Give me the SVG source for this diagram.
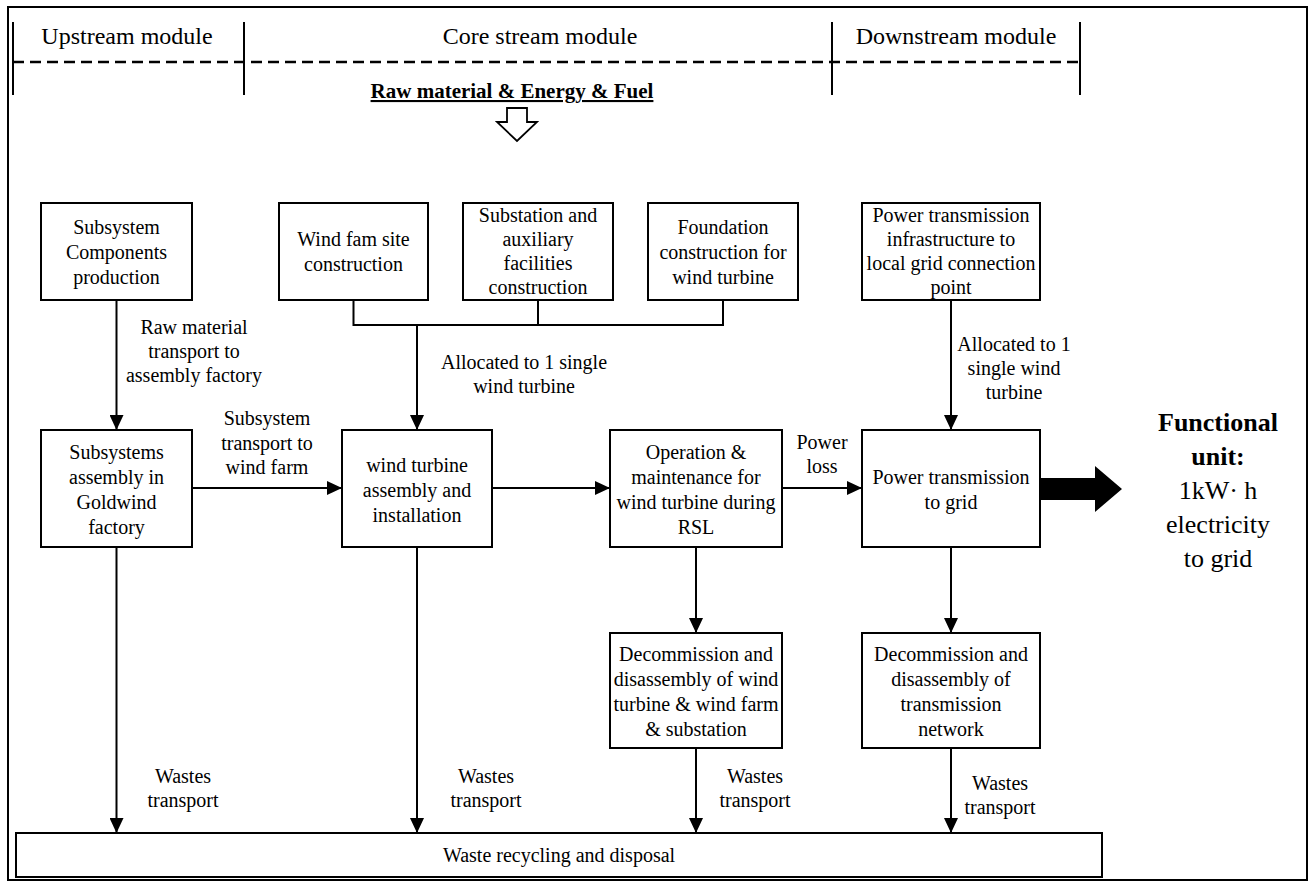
<svg xmlns="http://www.w3.org/2000/svg" width="1310" height="884" viewBox="0 0 1310 884">
<style>
text{font-family:"Liberation Serif","Times New Roman",serif;fill:#000}
.t{font-size:20px;text-anchor:middle}
.h{font-size:24px;text-anchor:middle}
.box{fill:#fff;stroke:#000;stroke-width:2}
.ln{fill:none;stroke:#000;stroke-width:2}
.ar{fill:none;stroke:#000;stroke-width:2;marker-end:url(#ah)}
.fu{font-size:26px;text-anchor:middle}
</style>
<defs>
<marker id="ah" markerUnits="userSpaceOnUse" markerWidth="15" markerHeight="14" refX="15" refY="7" orient="auto">
<path d="M0,0 L15,7 L0,14 z" fill="#000"/>
</marker>
</defs>
<rect width="1310" height="884" fill="#fff"/>
<rect x="8" y="7" width="1299" height="873" fill="none" stroke="#000" stroke-width="2"/>

<g id="header">
<line x1="13" y1="62" x2="1080" y2="62" stroke="#000" stroke-width="2.5" stroke-dasharray="11 6"/>
<line x1="13" y1="22" x2="13" y2="95" class="ln"/>
<line x1="244" y1="22" x2="244" y2="95" class="ln"/>
<line x1="832" y1="22" x2="832" y2="95" class="ln"/>
<line x1="1080" y1="22" x2="1080" y2="95" class="ln"/>
<text class="h" x="127" y="44">Upstream module</text>
<text class="h" x="540" y="44">Core stream module</text>
<text class="h" x="956" y="44">Downstream module</text>
</g>

<g id="inputs">
<text x="512" y="98" style="font-size:21px;font-weight:bold;text-anchor:middle;text-decoration:underline">Raw material &amp; Energy &amp; Fuel</text>
<polygon points="507,108 527,108 527,122 537,122 517,141 497,122 507,122" fill="#fff" stroke="#000" stroke-width="1.8"/>
</g>

<g id="n-components">
<rect class="box" x="41" y="203" width="151" height="97"/>
<text class="t" x="116.5" y="234">Subsystem</text>
<text class="t" x="116.5" y="259">Components</text>
<text class="t" x="116.5" y="284">production</text>
</g>
<g id="n-windfarm">
<rect class="box" x="279" y="203" width="149" height="97"/>
<text class="t" x="353.5" y="246">Wind fam site</text>
<text class="t" x="353.5" y="271">construction</text>
</g>
<g id="n-substation">
<rect class="box" x="463" y="203" width="150" height="97"/>
<text class="t" x="538" y="222">Substation and</text>
<text class="t" x="538" y="246">auxiliary</text>
<text class="t" x="538" y="270">facilities</text>
<text class="t" x="538" y="294">construction</text>
</g>
<g id="n-foundation">
<rect class="box" x="648" y="203" width="150" height="97"/>
<text class="t" x="723" y="234">Foundation</text>
<text class="t" x="723" y="259">construction for</text>
<text class="t" x="723" y="284">wind turbine</text>
</g>
<g id="n-infra">
<rect class="box" x="862" y="203" width="178" height="97"/>
<text class="t" x="951" y="222">Power transmission</text>
<text class="t" x="951" y="246">infrastructure to</text>
<text class="t" x="951" y="270">local grid connection</text>
<text class="t" x="951" y="294">point</text>
</g>

<g id="n-assembly">
<rect class="box" x="41" y="430" width="151" height="117"/>
<text class="t" x="116.5" y="459">Subsystems</text>
<text class="t" x="116.5" y="484">assembly in</text>
<text class="t" x="116.5" y="509">Goldwind</text>
<text class="t" x="116.5" y="534">factory</text>
</g>
<g id="n-turbine">
<rect class="box" x="342" y="430" width="150" height="117"/>
<text class="t" x="417" y="471.5">wind turbine</text>
<text class="t" x="417" y="496.5">assembly and</text>
<text class="t" x="417" y="521.5">installation</text>
</g>
<g id="n-operation">
<rect class="box" x="610" y="430" width="172" height="117"/>
<text class="t" x="696" y="459">Operation &amp;</text>
<text class="t" x="696" y="484">maintenance for</text>
<text class="t" x="696" y="509">wind turbine during</text>
<text class="t" x="696" y="534">RSL</text>
</g>
<g id="n-grid">
<rect class="box" x="862" y="430" width="178" height="117"/>
<text class="t" x="951" y="484">Power transmission</text>
<text class="t" x="951" y="509">to grid</text>
</g>

<g id="n-decom1">
<rect class="box" x="610" y="633" width="172" height="115"/>
<text class="t" x="696" y="661">Decommission and</text>
<text class="t" x="696" y="686">disassembly of wind</text>
<text class="t" x="696" y="711">turbine &amp; wind farm</text>
<text class="t" x="696" y="736">&amp; substation</text>
</g>
<g id="n-decom2">
<rect class="box" x="862" y="633" width="178" height="115"/>
<text class="t" x="951" y="661">Decommission and</text>
<text class="t" x="951" y="686">disassembly of</text>
<text class="t" x="951" y="711">transmission</text>
<text class="t" x="951" y="736">network</text>
</g>

<g id="n-waste">
<rect class="box" x="16" y="833" width="1086" height="44"/>
<text class="t" x="559" y="862">Waste recycling and disposal</text>
</g>

<g id="n-functional">
<text class="fu" x="1218" y="431" font-weight="bold">Functional</text>
<text class="fu" x="1218" y="465" font-weight="bold">unit:</text>
<text class="fu" x="1218" y="499">1kW· h</text>
<text class="fu" x="1218" y="533">electricity</text>
<text class="fu" x="1218" y="567">to grid</text>
</g>

<g id="connectors">
<line class="ar" x1="116.5" y1="300" x2="116.5" y2="430"/>
<polyline class="ln" points="353.5,300 353.5,325 723,325 723,300"/>
<line class="ln" x1="538" y1="300" x2="538" y2="325"/>
<line class="ar" x1="417" y1="325" x2="417" y2="430"/>
<line class="ar" x1="951" y1="300" x2="951" y2="430"/>
<line class="ar" x1="192" y1="488" x2="342" y2="488"/>
<line class="ar" x1="492" y1="488" x2="610" y2="488"/>
<line class="ar" x1="782" y1="488" x2="862" y2="488"/>
<line class="ar" x1="696" y1="547" x2="696" y2="633"/>
<line class="ar" x1="951" y1="547" x2="951" y2="633"/>
<line class="ar" x1="116.5" y1="547" x2="116.5" y2="833"/>
<line class="ar" x1="417" y1="547" x2="417" y2="833"/>
<line class="ar" x1="696" y1="748" x2="696" y2="833"/>
<line class="ar" x1="951" y1="748" x2="951" y2="833"/>
<polygon points="1040,478 1095,478 1095,466 1122,489 1095,512 1095,500 1040,500" fill="#000"/>
<text class="t" x="194" y="334">Raw material</text>
<text class="t" x="194" y="358">transport to</text>
<text class="t" x="194" y="382">assembly factory</text>
<text class="t" x="524" y="369">Allocated to 1 single</text>
<text class="t" x="524" y="393">wind turbine</text>
<text class="t" x="267" y="425">Subsystem</text>
<text class="t" x="267" y="450">transport to</text>
<text class="t" x="267" y="474">wind farm</text>
<text class="t" x="1014" y="351">Allocated to 1</text>
<text class="t" x="1014" y="375">single wind</text>
<text class="t" x="1014" y="399">turbine</text>
<text class="t" x="822" y="449">Power</text>
<text class="t" x="822" y="473">loss</text>
<text class="t" x="183" y="783">Wastes</text>
<text class="t" x="183" y="807">transport</text>
<text class="t" x="486" y="783">Wastes</text>
<text class="t" x="486" y="807">transport</text>
<text class="t" x="755" y="783">Wastes</text>
<text class="t" x="755" y="807">transport</text>
<text class="t" x="1000" y="790">Wastes</text>
<text class="t" x="1000" y="814">transport</text>
</g>
</svg>
